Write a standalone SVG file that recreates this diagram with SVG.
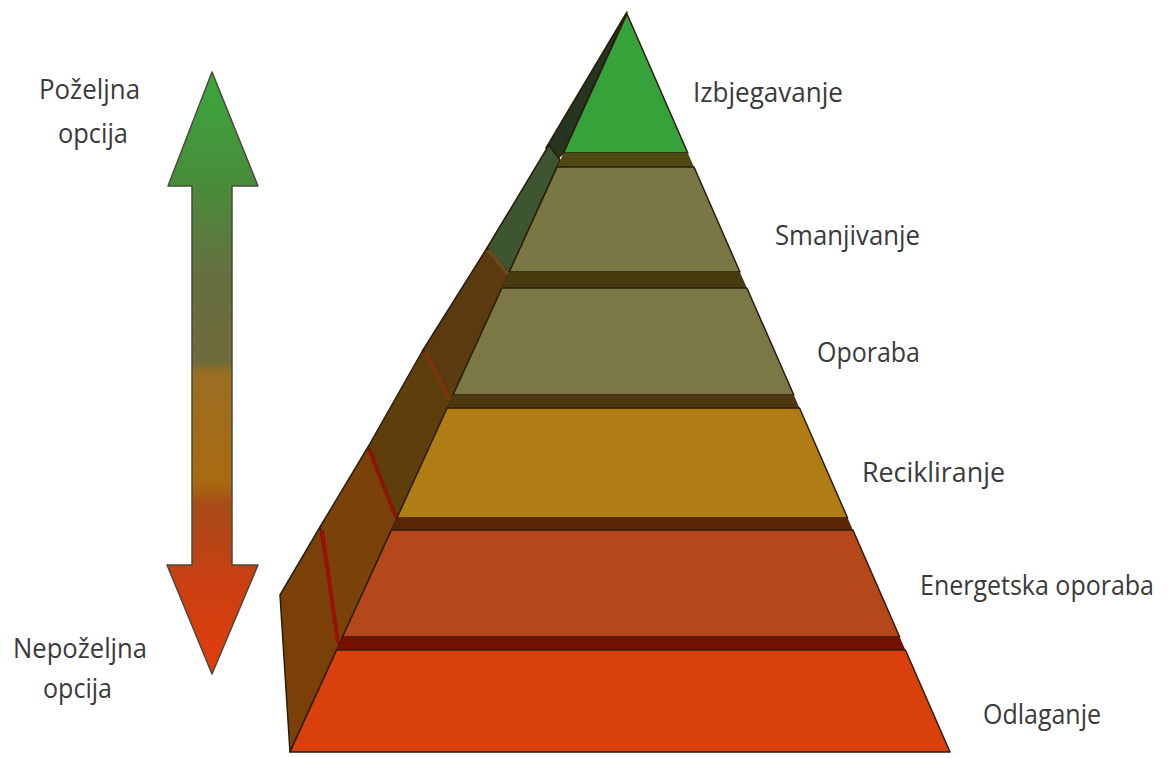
<svg xmlns="http://www.w3.org/2000/svg" width="1169" height="758" viewBox="0 0 1169 758">
<defs>
<linearGradient id="arrowGrad" x1="0" y1="72" x2="0" y2="675" gradientUnits="userSpaceOnUse">
<stop offset="0" stop-color="#3aa83c"/>
<stop offset="0.2" stop-color="#4a8a3a"/>
<stop offset="0.33" stop-color="#667040"/>
<stop offset="0.48" stop-color="#6f6a3a"/>
<stop offset="0.5" stop-color="#9a6e22"/>
<stop offset="0.68" stop-color="#a86a10"/>
<stop offset="0.72" stop-color="#a84a18"/>
<stop offset="0.84" stop-color="#c84012"/>
<stop offset="1" stop-color="#e43c0c"/>
</linearGradient>
</defs>
<style>
.lbl{font-family:"Open Sans","Liberation Sans",sans-serif;font-size:27px;fill:#3a3a3a}
.edge{stroke:#2a1c08;stroke-width:1.5;stroke-linejoin:round}
.div{fill:none;stroke-width:4;stroke-linecap:butt}
</style>
<rect width="1169" height="758" fill="#ffffff"/>

<g id="arrow">
<polygon points="212,72 258,186 232,186 232,565 258,565 212,674 167,565 192,565 192,186 168,186" fill="url(#arrowGrad)" stroke="#4a4a3a" stroke-width="1.5" stroke-linejoin="round"/>
</g>

<g id="side-faces">
<polygon class="edge" points="627,12 546,148 556,160 563.5,153" fill="#263520"/>
<polygon class="edge" points="549,145 487,248 509.2,273 560,160" fill="#3d5530"/>
<polygon class="edge" points="487,248 423,350 451,401 509.2,273" fill="#5a3a0e"/>
<polygon class="edge" points="423,350 368,447 397,518 451,401" fill="#5e3e0a"/>
<polygon class="edge" points="368,447 320,527 339,645 397,518" fill="#7a4208"/>
<polygon class="edge" points="320,527 280,595 290,752 339,645" fill="#7a4008"/>
<line class="div" x1="488" y1="250" x2="508" y2="274" stroke="#6b4a1e"/>
<line class="div" x1="425" y1="352" x2="450" y2="400" stroke="#7a3510"/>
<line class="div" x1="369" y1="449" x2="396" y2="517" stroke="#8a1505"/>
<line class="div" x1="322" y1="530" x2="338" y2="643" stroke="#9a1205"/>
</g>

<g id="tier-izbjegavanje">
<polygon class="edge" points="627,14 687.8,153 563.5,153" fill="#35a33a"/>
<polygon points="563.5,153 687.8,153 694,167 557.1,167" fill="#4d4a14"/>
</g>
<g id="tier-smanjivanje">
<polygon class="edge" points="557.1,167 694,167 739.9,272 509.2,272" fill="#7a7745"/>
<polygon points="509.2,272 739.9,272 746.9,288 501.9,288" fill="#463c10"/>
</g>
<g id="tier-oporaba">
<polygon class="edge" points="501.9,288 746.9,288 793.8,395 453,395" fill="#7b7846"/>
<polygon points="453,395 793.8,395 799.5,408 447.1,408" fill="#4d3812"/>
</g>
<g id="tier-recikliranje">
<polygon class="edge" points="447.1,408 799.5,408 847.6,518 396.9,518" fill="#b07c14"/>
<polygon points="396.9,518 847.6,518 852.9,530 391.4,530" fill="#5a2406"/>
</g>
<g id="tier-energetska">
<polygon class="edge" points="391.4,530 852.9,530 899.7,637 342.5,637" fill="#b5481a"/>
<polygon points="342.5,637 899.7,637 905.4,650 336.6,650" fill="#741000"/>
</g>
<g id="tier-odlaganje">
<polygon class="edge" points="336.6,650 905.4,650 950,752 290,752" fill="#d9400c"/>
</g>

<g id="labels">
<text class="lbl" x="39" y="99" textLength="101" lengthAdjust="spacingAndGlyphs">Poželjna</text>
<text class="lbl" x="58" y="143" textLength="70" lengthAdjust="spacingAndGlyphs">opcija</text>
<text class="lbl" x="13" y="658" textLength="134" lengthAdjust="spacingAndGlyphs">Nepoželjna</text>
<text class="lbl" x="43" y="698" textLength="69" lengthAdjust="spacingAndGlyphs">opcija</text>
<text class="lbl" x="693" y="102" textLength="150" lengthAdjust="spacingAndGlyphs">Izbjegavanje</text>
<text class="lbl" x="775" y="245" textLength="145" lengthAdjust="spacingAndGlyphs">Smanjivanje</text>
<text class="lbl" x="817" y="362" textLength="103" lengthAdjust="spacingAndGlyphs">Oporaba</text>
<text class="lbl" x="862" y="482" textLength="143" lengthAdjust="spacingAndGlyphs">Recikliranje</text>
<text class="lbl" x="920" y="595" textLength="234" lengthAdjust="spacingAndGlyphs">Energetska oporaba</text>
<text class="lbl" x="983" y="724" textLength="118" lengthAdjust="spacingAndGlyphs">Odlaganje</text>
</g>
</svg>
